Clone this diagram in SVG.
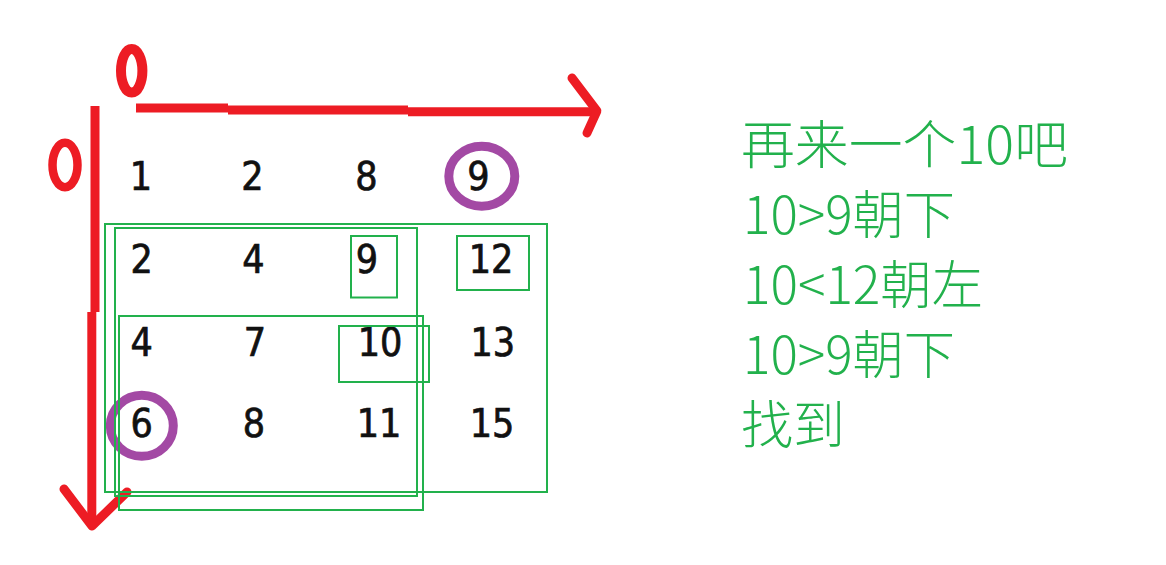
<svg xmlns="http://www.w3.org/2000/svg" width="1166" height="565" viewBox="0 0 1166 565">
  <style>
    .red { fill: none; stroke: #ed1c24; stroke-width: 9; stroke-linecap: round; stroke-linejoin: round; }
    .redbut { fill: none; stroke: #ed1c24; stroke-width: 9; stroke-linecap: butt; }
    .box { fill: none; stroke: #22b14c; stroke-width: 2; }
    .ring { fill: none; stroke: #a349a4; stroke-width: 9; }
    .num { font-family: "DejaVu Sans Condensed", "DejaVu Sans", sans-serif; font-stretch: condensed; font-size: 39px; fill: #111; stroke: #111; stroke-width: 0.7; text-anchor: middle; }
    .note { font-family: "Noto Sans CJK SC", "Noto Sans", sans-serif; font-weight: 300; font-size: 52px; fill: #22b14c; }
  </style>
  <rect width="1166" height="565" fill="#ffffff"/>

  <g id="axes">
    <ellipse cx="131.7" cy="70.8" rx="10.7" ry="21.8" fill="none" stroke="#ed1c24" stroke-width="10"/>
    <ellipse cx="65" cy="165" rx="12.5" ry="22.2" fill="none" stroke="#ed1c24" stroke-width="8.5"/>
    <line class="redbut" x1="136" y1="108" x2="228" y2="108"/>
    <line class="redbut" x1="228" y1="110" x2="408" y2="110"/>
    <line class="redbut" x1="408" y1="111.7" x2="596" y2="111.7"/>
    <polyline class="red" points="572,78 597,111 587,133"/>
    <line class="redbut" x1="95" y1="106" x2="95" y2="312"/>
    <line class="redbut" x1="91.8" y1="312" x2="91.8" y2="524"/>
    <polyline class="red" points="64,489 92,526 127,492"/>
  </g>

  <g id="matrix">
    <text class="num" x="141" y="190">1</text>
    <text class="num" x="252.5" y="190">2</text>
    <text class="num" x="366.3" y="190">8</text>
    <text class="num" x="478.5" y="190">9</text>

    <text class="num" x="141.7" y="273">2</text>
    <text class="num" x="253.3" y="273">4</text>
    <text class="num" x="367" y="273">9</text>
    <text class="num" x="491" y="273">12</text>

    <text class="num" x="141.7" y="355.5">4</text>
    <text class="num" x="255" y="355.5">7</text>
    <text class="num" x="380" y="355.5">10</text>
    <text class="num" x="492.7" y="355.5">13</text>

    <text class="num" x="141.7" y="437">6</text>
    <text class="num" x="254" y="437">8</text>
    <text class="num" x="379" y="437">11</text>
    <text class="num" x="492" y="437">15</text>
  </g>

  <g id="circles">
    <ellipse class="ring" cx="481.8" cy="176.2" rx="33" ry="30"/>
    <ellipse class="ring" cx="141.8" cy="425.8" rx="31.5" ry="30.5"/>
  </g>

  <g id="boxes">
    <rect class="box" x="105" y="224" width="442" height="268"/>
    <rect class="box" x="115" y="228" width="302" height="268"/>
    <rect class="box" x="119" y="316" width="304" height="194"/>
    <rect class="box" x="351" y="236" width="46" height="61.5"/>
    <rect class="box" x="457" y="236" width="72" height="54"/>
    <rect class="box" x="339" y="326" width="90" height="56"/>
  </g>

  <g id="notes">
    <text class="note" x="741" y="164" textLength="327" lengthAdjust="spacingAndGlyphs">再来一个10吧</text>
    <text class="note" x="743" y="234" textLength="212" lengthAdjust="spacingAndGlyphs">10&gt;9朝下</text>
    <text class="note" x="743" y="304" textLength="240" lengthAdjust="spacingAndGlyphs">10&lt;12朝左</text>
    <text class="note" x="743" y="374" textLength="212" lengthAdjust="spacingAndGlyphs">10&gt;9朝下</text>
    <text class="note" x="741" y="444" textLength="104" lengthAdjust="spacingAndGlyphs">找到</text>
  </g>
</svg>
